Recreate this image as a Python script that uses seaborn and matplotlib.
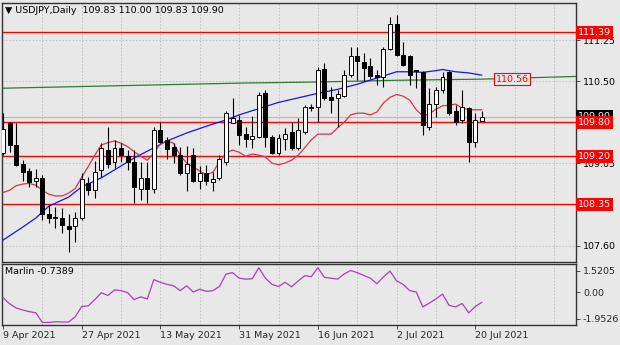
import matplotlib
matplotlib.use("Agg")
import matplotlib.pyplot as plt
import matplotlib.transforms as mtransforms
import numpy as np
import pandas as pd
import seaborn as sns

# ---------------- data ----------------
opens = [109.26, 109.79, 109.40, 109.07, 108.94, 108.76, 108.81, 108.18, 108.13, 108.11,
         107.97, 107.97, 108.11, 108.72, 108.60, 108.95, 109.31, 109.10, 109.34, 109.20,
         109.10, 108.62, 108.81, 108.62, 109.67, 109.49, 109.36, 109.22, 108.90, 109.22,
         108.77, 108.90, 108.75, 108.81, 109.10, 109.79, 109.84, 109.59, 109.50, 109.54,
         110.31, 109.54, 109.25, 109.50, 109.63, 109.34, 109.63, 110.07, 110.07, 110.74,
         110.24, 110.23, 110.27, 110.64, 110.96, 110.86, 110.80, 110.64, 110.60, 111.10,
         111.53, 110.99, 110.96, 110.72, 110.69, 109.72, 110.13, 110.37, 110.69, 109.99,
         109.84, 110.05, 109.46, 109.83]
highs = [109.97, 109.81, 109.78, 109.13, 109.00, 108.98, 108.87, 108.34, 108.31, 108.28,
         108.19, 108.22, 108.90, 108.84, 109.11, 109.43, 109.72, 109.49, 109.43, 109.31,
         109.31, 109.09, 109.10, 109.72, 109.81, 109.54, 109.43, 109.37, 109.38, 109.34,
         109.02, 109.05, 108.93, 109.22, 109.99, 110.22, 109.93, 109.72, 109.91, 110.34,
         110.37, 109.57, 109.60, 109.69, 109.81, 109.87, 110.10, 110.13, 110.78, 110.84,
         110.43, 110.37, 110.72, 111.13, 111.13, 111.02, 110.93, 110.72, 111.13, 111.66,
         111.69, 111.22, 110.99, 110.73, 110.70, 110.40, 110.43, 110.69, 110.71, 110.10,
         110.37, 110.07, 109.96, 110.00]
lows = [109.22, 109.28, 109.03, 108.77, 108.65, 108.65, 108.07, 108.02, 107.93, 107.84,
        107.52, 107.69, 108.07, 108.51, 108.46, 108.84, 108.99, 108.99, 109.10, 108.96,
        108.37, 108.43, 108.37, 108.55, 109.43, 109.16, 109.08, 108.87, 108.59, 108.75,
        108.63, 108.69, 108.59, 108.78, 109.05, 109.78, 109.40, 109.37, 109.34, 109.52,
        109.37, 109.24, 109.22, 109.31, 109.31, 109.31, 109.60, 109.99, 109.81, 110.19,
        109.96, 109.72, 110.25, 110.60, 110.54, 110.53, 110.56, 110.46, 110.43, 111.07,
        110.96, 110.79, 110.45, 110.40, 109.57, 109.66, 109.90, 110.31, 109.93, 109.75,
        109.78, 109.10, 109.37, 109.83]
closes = [109.68, 109.40, 109.05, 108.93, 108.75, 108.81, 108.18, 108.11, 108.11, 107.99,
          107.91, 108.11, 108.80, 108.60, 108.93, 109.34, 109.07, 109.34, 109.22, 109.10,
          108.65, 108.81, 108.62, 109.67, 109.46, 109.32, 109.22, 108.90, 109.07, 108.77,
          108.90, 108.77, 108.80, 109.16, 109.96, 109.87, 109.58, 109.50, 109.56, 110.28,
          109.54, 109.25, 109.52, 109.60, 109.34, 109.66, 110.07, 110.05, 110.72, 110.22,
          110.20, 110.29, 110.64, 110.96, 110.88, 110.75, 110.62, 110.59, 111.10, 111.53,
          110.99, 110.81, 110.64, 110.70, 109.75, 110.13, 110.37, 110.60, 109.96, 109.81,
          110.07, 109.46, 109.84, 109.90]

ma_red = [108.56, 108.60, 108.68, 108.71, 108.72, 108.69, 108.60, 108.53, 108.50, 108.50,
          108.55, 108.63, 108.83, 109.02, 109.22, 109.40, 109.44, 109.47, 109.43, 109.37,
          109.28, 109.20, 109.13, 109.26, 109.42, 109.47, 109.43, 109.22, 109.08, 109.01,
          108.94, 108.87, 108.92, 109.10, 109.26, 109.31, 109.27, 109.20, 109.24, 109.22,
          109.19, 109.08, 109.05, 109.08, 109.13, 109.22, 109.35, 109.49, 109.59, 109.59,
          109.59, 109.70, 109.80, 109.93, 109.96, 109.96, 109.93, 109.98, 110.14, 110.24,
          110.29, 110.26, 110.19, 110.02, 109.91, 109.95, 110.03, 110.09, 110.10, 110.12,
          110.05, 110.02, 110.02, 110.02]

ma_blue_idx = [0, 3, 5, 7, 10, 12, 15, 18, 20, 23, 25, 28, 31, 34, 36, 39, 42, 45, 48,
               51, 54, 57, 60, 62, 64, 66, 67, 69, 71, 73]
ma_blue = [107.72, 107.95, 108.11, 108.32, 108.48, 108.66, 108.82, 109.03, 109.17, 109.35,
           109.47, 109.61, 109.73, 109.84, 109.93, 110.04, 110.15, 110.23, 110.31, 110.38,
           110.47, 110.58, 110.69, 110.69, 110.68, 110.71, 110.73, 110.69, 110.67, 110.63]

ma_green_idx = [0, 12, 24, 36, 48, 60, 73, 88]
ma_green = [110.40, 110.43, 110.46, 110.49, 110.51, 110.54, 110.56, 110.61]

marlin = [-0.40, -0.85, -1.15, -1.30, -1.42, -1.50, -2.20, -2.20, -2.15, -2.17,
          -2.17, -1.80, -1.05, -1.00, -0.55, -0.05, -0.25, 0.15, 0.10, -0.05,
          -0.55, -0.35, -0.50, 0.90, 0.70, 0.55, 0.45, 0.10, 0.45, 0.00,
          0.20, 0.05, 0.10, 0.40, 1.30, 1.40, 1.00, 0.93, 0.96, 1.76,
          1.00, 0.55, 0.40, 0.70, 0.38, 0.80, 1.18, 1.11, 1.76, 1.06,
          1.00, 0.93, 1.30, 1.56, 1.40, 1.20, 1.00, 0.60, 1.10, 1.51,
          0.81, 0.55, 0.10, 0.00, -1.08, -0.80, -0.50, -0.15, -0.96, -1.08,
          -0.83, -1.51, -1.05, -0.74]

levels = [111.39, 109.80, 109.20, 108.35]
level_green = 110.56
bid = 109.90

date_idx = [0, 12, 24, 36, 48, 60, 72]
date_labels = ["9 Apr 2021", "27 Apr 2021", "13 May 2021", "31 May 2021",
               "16 Jun 2021", "2 Jul 2021", "20 Jul 2021"]
price_ticks = [111.25, 110.525, 109.075, 107.625]
price_tick_labels = ["111.25", "110.50", "109.05", "107.60"]
marlin_ticks = [1.5205, 0.0, -1.9526]
marlin_tick_labels = ["1.5205", "0.00", "-1.9526"]

title_text = "\u25BC USDJPY,Daily  109.83 110.00 109.83 109.90"
marlin_text = "Marlin -0.7389"

# ---------------- style ----------------
BG = "#E8E8E8"
sns.set_style("white")
plt.rcParams["font.family"] = ["DejaVu Sans"]
plt.rcParams["font.size"] = 6.8
FRAME = "#333333"
GRID = "#BDBDBD"

fig = plt.figure(figsize=(6.2, 3.45), dpi=100, facecolor=BG)
ax = fig.add_axes([2 / 620, 1 - 262 / 345, 574 / 620, 259 / 345], facecolor=BG)
ax2 = fig.add_axes([2 / 620, 1 - 325 / 345, 574 / 620, 61 / 345], facecolor=BG, sharex=ax)

XMIN, XMAX = -0.15, 87.35
n = len(closes)
idx = np.arange(n)

# grid
for a in (ax, ax2):
    for gx in range(6, 88, 6):
        a.axvline(gx, color=GRID, lw=0.6, ls=(0, (2, 2)), zorder=0)
for p in price_ticks + [109.80, 108.35]:
    ax.axhline(p, color=GRID, lw=0.6, ls=(0, (2, 2)), zorder=0)

# bid line
ax.axhline(bid, color="#B8B8B8", lw=0.8, zorder=1)

# levels
for lv in levels:
    ax.axhline(lv, color="#FF0000", lw=1.0, zorder=2)

# moving averages
df_red = pd.DataFrame({"i": idx, "v": ma_red})
df_blue = pd.DataFrame({"i": ma_blue_idx, "v": ma_blue})
df_green = pd.DataFrame({"i": ma_green_idx, "v": ma_green})
sns.lineplot(data=df_green, x="i", y="v", ax=ax, color="#2E7D32", lw=0.9, zorder=3)
sns.lineplot(data=df_blue, x="i", y="v", ax=ax, color="#1414F0", lw=0.9, zorder=3)
sns.lineplot(data=df_red, x="i", y="v", ax=ax, color="#E0304E", lw=0.9, zorder=3)

# candles
o = np.array(opens); h = np.array(highs); l = np.array(lows); c = np.array(closes)
ax.vlines(idx, l, h, color="black", lw=0.8, zorder=4)
bull = c >= o
body_low = np.minimum(o, c)
body_h = np.maximum(np.abs(c - o), 0.012)
ax.bar(idx[bull], body_h[bull], bottom=body_low[bull], width=0.6,
       color="white", edgecolor="black", lw=0.7, zorder=5)
ax.bar(idx[~bull], body_h[~bull], bottom=body_low[~bull], width=0.6,
       color="black", edgecolor="black", lw=0.7, zorder=5)

ax.set_xlim(XMIN, XMAX)
ax.set_ylim(107.335, 111.903)
ax.set_xlabel(""); ax.set_ylabel("")

# right price axis
ax.yaxis.tick_right()
ax.set_yticks(price_ticks)
ax.set_yticklabels(price_tick_labels)
ax.tick_params(axis="y", direction="out", length=3, width=0.6, color=FRAME, pad=2,
               labelsize=6.8, labelcolor="black")
ax.tick_params(axis="x", bottom=False, labelbottom=False)

trans = mtransforms.blended_transform_factory(ax.transAxes, ax.transData)
# bid label (black) under red label
ax.text(1.004, bid, "109.90", transform=trans, ha="left", va="center", color="white",
        fontsize=6.8, clip_on=False, zorder=10,
        bbox=dict(boxstyle="square,pad=0.22", fc="black", ec="none"))
for lv in levels:
    ax.text(1.004, lv, f"{lv:.2f}", transform=trans, ha="left", va="center", color="white",
            fontsize=6.8, clip_on=False, zorder=11,
            bbox=dict(boxstyle="square,pad=0.22", fc="#FF0000", ec="none"))

ax.text(77.6, level_green, "110.56", ha="center", va="center", color="#FF0000",
        fontsize=6.8, zorder=8,
        bbox=dict(boxstyle="square,pad=0.18", fc=BG, ec="#FF0000", lw=0.8))

ax.text(0.006, 0.972, title_text, transform=ax.transAxes, ha="left", va="center",
        fontsize=6.8, color="black")

# Marlin panel
df_m = pd.DataFrame({"i": idx, "v": marlin})
sns.lineplot(data=df_m, x="i", y="v", ax=ax2, color="#B03CC0", lw=0.9, zorder=3)
ax2.set_ylim(-2.387, 2.027)
ax2.set_xlim(XMIN, XMAX)
ax2.set_xlabel(""); ax2.set_ylabel("")
ax2.yaxis.tick_right()
ax2.set_yticks(marlin_ticks)
ax2.set_yticklabels(marlin_tick_labels)
ax2.tick_params(axis="y", direction="out", length=3, width=0.6, color=FRAME, pad=2,
                labelsize=6.8)
ax2.set_xticks(date_idx)
ax2.set_xticklabels(date_labels)
for t in ax2.get_xticklabels():
    t.set_ha("left")
ax2.tick_params(axis="x", direction="out", length=3, width=0.6, color=FRAME, pad=1.5,
                labelsize=6.8, bottom=True, labelbottom=True)
ax2.text(0.006, 0.88, marlin_text, transform=ax2.transAxes, ha="left", va="center",
         fontsize=6.8, color="black")

for a in (ax, ax2):
    for s in a.spines.values():
        s.set_visible(True)
        s.set_color(FRAME)
        s.set_linewidth(1.0)

fig.savefig("out.png", dpi=100, facecolor=BG)
